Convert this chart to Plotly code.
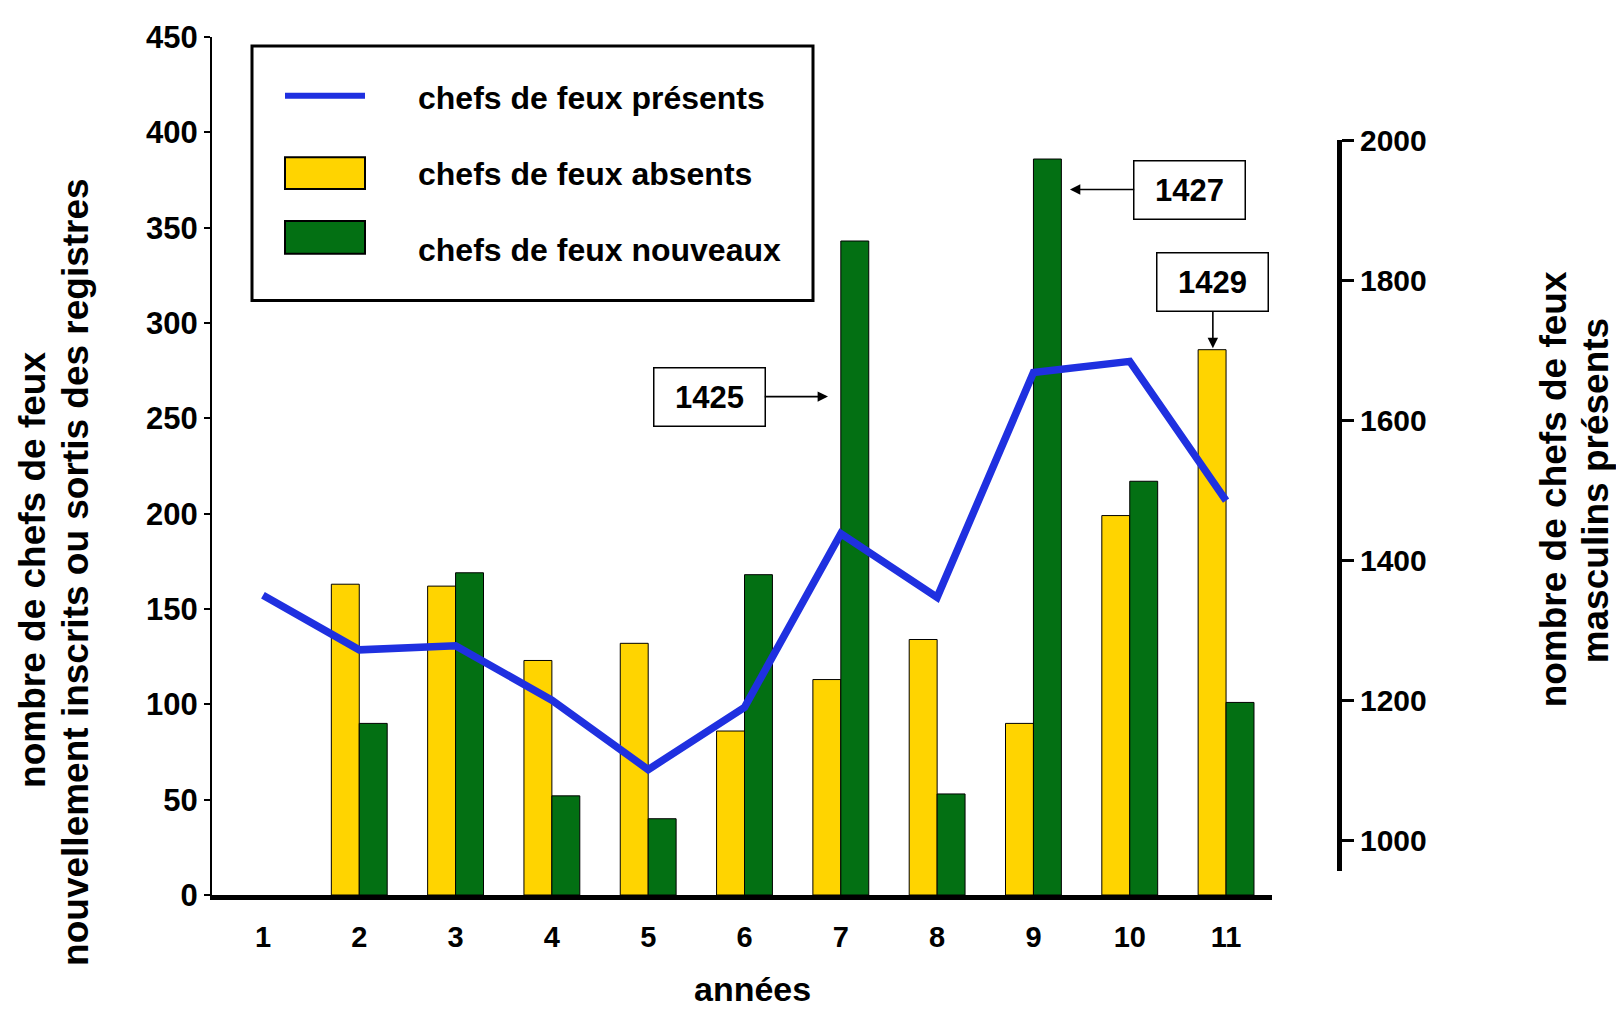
import plotly.graph_objects as go

# ---------------- data ----------------
years = [1, 2, 3, 4, 5, 6, 7, 8, 9, 10, 11]
year_labels = ["1", "2", "3", "4", "5", "6", "7", "8", "9", "10", "11"]
absents = [None, 163, 162, 123, 132, 86, 113, 134, 90, 199, 286]
nouveaux = [None, 90, 169, 52, 40, 168, 343, 53, 386, 217, 101]
presents = [1350, 1272, 1278, 1200, 1101, 1190, 1438, 1347, 1668, 1684, 1485]
left_ticks = [0, 50, 100, 150, 200, 250, 300, 350, 400, 450]
right_ticks = [1000, 1200, 1400, 1600, 1800, 2000]

YELLOW = "#FFD400"
GREEN = "#037013"
BLUE = "#1F30E0"

PAGE = 8  # default body margin of the html page
W, H = 1624 - 2 * PAGE, 1021 - 2 * PAGE
L, T, R, B = 212, 32, 1345, 895  # plot area in screen pixels


def px(x):
    return (x - L) / (R - L)


def py(y):
    return (B - y) / (B - T)


REG = "Liberation Sans, Arial, Helvetica, sans-serif"

fig = go.Figure()
fig.add_trace(go.Bar(x=years, y=absents, width=0.29, offset=-0.29,
                     marker=dict(color=YELLOW, line=dict(color="black", width=1)),
                     name="chefs de feux absents", showlegend=False))
fig.add_trace(go.Bar(x=years, y=nouveaux, width=0.29, offset=0,
                     marker=dict(color=GREEN, line=dict(color="black", width=1)),
                     name="chefs de feux nouveaux", showlegend=False))
fig.add_trace(go.Scatter(x=years, y=presents, mode="lines", yaxis="y2",
                         line=dict(color=BLUE, width=7.5),
                         name="chefs de feux présents", showlegend=False))

fig.update_layout(
    width=W, height=H,
    margin=dict(l=L - PAGE, r=W - (R - PAGE), t=T - PAGE, b=H - (B - PAGE)),
    paper_bgcolor="white", plot_bgcolor="rgba(0,0,0,0)",
    barmode="overlay",
    showlegend=False,
    xaxis=dict(domain=[0, px(1272)], range=[0.471, 11.477],
               tickvals=years, ticktext=year_labels, ticks="",
               ticklabelstandoff=12,
               tickfont=dict(family=REG, size=29, color="black", weight="bold"),
               showline=True, linecolor="black", linewidth=4.5,
               showgrid=False, zeroline=False, anchor="y"),
    yaxis=dict(domain=[0, 1], range=[0, 450], tickvals=left_ticks,
               ticks="outside", ticklen=6, tickwidth=2, tickcolor="black",
               tickfont=dict(family=REG, size=31, color="black", weight="bold"),
               showline=True, linecolor="black", linewidth=2,
               showgrid=False, zeroline=False),
    yaxis2=dict(domain=[py(871), py(135.7)], range=[956, 2000],
                tickvals=right_ticks, side="right", anchor="free",
                position=px(1339),
                ticks="outside", ticklen=12, tickwidth=3, tickcolor="black",
                tickfont=dict(family=REG, size=30, color="black", weight="bold"),
                showline=True, linecolor="black", linewidth=5,
                showgrid=False, zeroline=False),
)

# ---------------- axis titles ----------------
ann = []
title_font = dict(family=REG, size=37, color="black", weight="bold")
ann.append(dict(text="nombre de chefs de feux", xref="paper", yref="paper",
                x=px(33), y=py(568), textangle=-90, showarrow=False,
                xanchor="center", yanchor="middle", font=title_font))
ann.append(dict(text="nouvellement inscrits ou sortis des registres", xref="paper", yref="paper",
                x=px(76), y=py(570), textangle=-90, showarrow=False,
                xanchor="center", yanchor="middle", font=title_font))
ann.append(dict(text="nombre de chefs de feux", xref="paper", yref="paper",
                x=px(1553), y=py(487), textangle=-90, showarrow=False,
                xanchor="center", yanchor="middle", font=title_font))
ann.append(dict(text="masculins présents", xref="paper", yref="paper",
                x=px(1595), y=py(489), textangle=-90, showarrow=False,
                xanchor="center", yanchor="middle", font=title_font))
ann.append(dict(text="années", xref="paper", yref="paper",
                x=px(752), y=py(990), showarrow=False,
                xanchor="center", yanchor="middle",
                font=dict(family=REG, size=34, color="black", weight="bold")))

# ---------------- year call-outs ----------------
box_font = dict(family=REG, size=31, color="black", weight="bold")
common = dict(showarrow=True, arrowhead=2, arrowsize=1.3, arrowwidth=1.6,
              arrowcolor="black", bordercolor="black", borderwidth=1.5,
              bgcolor="white", width=106, height=53, borderpad=2,
              font=box_font, xref="x", yref="y", axref="pixel", ayref="pixel")
ann.append(dict(text="1425", x=6.867, y=261.4, ax=-119, ay=0, **common))
ann.append(dict(text="1427", x=9.379, y=370, ax=120, ay=0, **common))
ann.append(dict(text="1429", x=10.863, y=286.8, ax=0, ay=-66, **common))

# ---------------- manual legend ----------------
leg_font = dict(family=REG, size=32, color="black", weight="bold")
shapes = []
shapes.append(dict(type="rect", xref="paper", yref="paper",
                   x0=px(252), x1=px(813), y0=py(297), y1=py(41),
                   line=dict(color="black", width=3), fillcolor="rgba(0,0,0,0)"))
shapes.append(dict(type="line", xref="paper", yref="paper",
                   x0=px(285), x1=px(365), y0=py(91), y1=py(91),
                   line=dict(color=BLUE, width=6)))
shapes.append(dict(type="rect", xref="paper", yref="paper",
                   x0=px(285), x1=px(365), y0=py(185), y1=py(153),
                   line=dict(color="black", width=2), fillcolor=YELLOW))
shapes.append(dict(type="rect", xref="paper", yref="paper",
                   x0=px(285), x1=px(365), y0=py(250), y1=py(217),
                   line=dict(color="black", width=2), fillcolor=GREEN))
for label, yc in [("chefs de feux présents", 93),
                  ("chefs de feux absents", 170),
                  ("chefs de feux nouveaux", 246)]:
    ann.append(dict(text=label, xref="paper", yref="paper", x=px(416), y=py(yc),
                    xanchor="left", yanchor="middle", showarrow=False, font=leg_font))

fig.update_layout(annotations=ann, shapes=shapes)
fig.write_html("out.html")
